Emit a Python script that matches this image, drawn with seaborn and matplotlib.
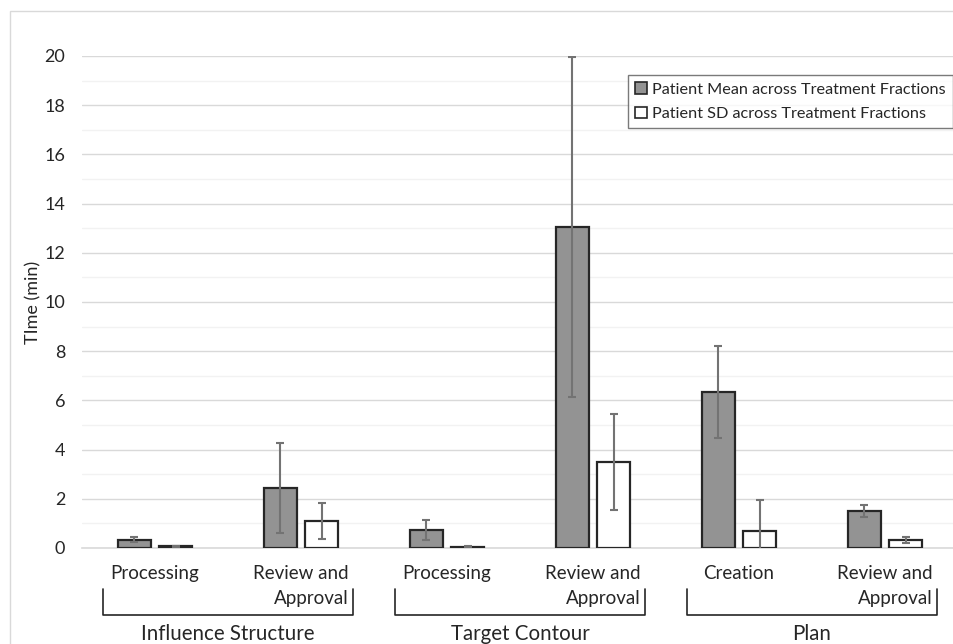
import matplotlib
matplotlib.use("Agg")
import matplotlib.pyplot as plt
from matplotlib.patches import Rectangle, Patch
from matplotlib.lines import Line2D
import seaborn as sns
import pandas as pd

# Workflow steps, grouped by stage
step_ids = ["is_proc", "is_review", "tc_proc", "tc_review", "plan_create", "plan_review"]
step_labels = ["Processing", "Review and\nApproval", "Processing", "Review and\nApproval",
               "Creation", "Review and\nApproval"]
groups = ["Influence Structure", "Target Contour", "Plan"]
group_spans = [(0, 1), (2, 3), (4, 5)]

series_names = ["Patient Mean across Treatment Fractions", "Patient SD across Treatment Fractions"]

# Times in minutes
mean_vals = [0.33, 2.45, 0.73, 13.05, 6.34, 1.50]
mean_err = [0.10, 1.82, 0.41, 6.90, 1.86, 0.24]
sd_vals = [0.07, 1.10, 0.05, 3.51, 0.69, 0.33]
sd_err = [0.03, 0.73, 0.02, 1.95, 1.26, 0.12]

yticks = list(range(0, 21, 2))

df = pd.DataFrame({
    "step": step_ids * 2,
    "series": [series_names[0]] * 6 + [series_names[1]] * 6,
    "time": mean_vals + sd_vals,
})

sns.set_style("white")
plt.rcParams["font.family"] = ["Lato", "DejaVu Sans"]

fig = plt.figure(figsize=(9.54, 6.44), dpi=100)
ax_left, ax_right = 82 / 954, 958 / 954
ax_bottom, ax_top = 1 - 548 / 644, 1 - 56 / 644
ax = fig.add_axes([ax_left, ax_bottom, ax_right - ax_left, ax_top - ax_bottom])

palette = {series_names[0]: "#939393", series_names[1]: "#ffffff"}
sns.barplot(data=df, x="step", y="time", hue="series", order=step_ids,
            hue_order=series_names, palette=palette, edgecolor="#262626",
            linewidth=1.6, width=0.575, gap=0.214, errorbar=None,
            legend=False, ax=ax, zorder=3)

# Error bars at the centre of each drawn bar
for container, vals, errs in zip(ax.containers, [mean_vals, sd_vals], [mean_err, sd_err]):
    xs = [p.get_x() + p.get_width() / 2 for p in container]
    ax.errorbar(xs, vals, yerr=errs, fmt="none", ecolor="#737373", elinewidth=1.5,
                capsize=2.8, capthick=1.5, zorder=4)

ax.set_xlim(-0.5, 5.5)
ax.set_ylim(0, 20)
ax.set_yticks(yticks)
ax.set_yticklabels([str(t) for t in yticks], fontsize=13, color="#262626")
ax.set_yticks(range(1, 20, 2), minor=True)
ax.tick_params(axis="y", which="both", length=0, pad=12)
ax.set_xticks([])
ax.set_xlabel("")
ax.set_ylabel("TIme (min)", fontsize=13, color="#262626", labelpad=2)

ax.grid(axis="y", which="major", color="#d9d9d9", lw=1.0, zorder=0)
ax.grid(axis="y", which="minor", color="#f2f2f2", lw=1.0, zorder=0)
ax.set_axisbelow(True)
for side in ["top", "right", "left"]:
    ax.spines[side].set_visible(False)
ax.spines["bottom"].set_color("#d9d9d9")
ax.spines["bottom"].set_linewidth(1.2)

# Category labels, brackets and group names below the axis
xtr = ax.get_xaxis_transform()
def ay(px):
    return (548 - px) / 492

for i, lab in enumerate(step_labels):
    ax.text(i, ay(565), lab, transform=xtr, ha="center", va="top", multialignment="right",
            fontsize=13.5, color="#262626", linespacing=1.55, clip_on=False)

for (a, b), g in zip(group_spans, groups):
    x0, x1 = a - 0.355, b + 0.355
    ax.add_line(Line2D([x0, x0, x1, x1], [ay(589), ay(615), ay(615), ay(589)],
                       transform=xtr, color="#262626", lw=1.2, clip_on=False))
    ax.text((a + b) / 2, ay(634), g, transform=xtr, ha="center", va="center",
            fontsize=14.8, color="#262626", clip_on=False)

# Legend
handles = [Patch(facecolor=palette[s], edgecolor="#262626", lw=1.2) for s in series_names]
leg = fig.legend(handles, series_names, loc="upper left",
                 bbox_to_anchor=(628 / 954, 1 - 75 / 644), fontsize=11.7,
                 frameon=True, fancybox=False, handlelength=0.7, handleheight=0.7,
                 handletextpad=0.3, labelspacing=0.62, borderpad=0.45, borderaxespad=0)
leg.get_frame().set_edgecolor("#595959")
leg.get_frame().set_linewidth(1.0)
for t in leg.get_texts():
    t.set_color("#262626")

# Light frame around the chart area
fig.patches.append(Rectangle((10 / 954, -0.1), 1.2, 1 - 11 / 644 + 0.1,
                             transform=fig.transFigure, fill=False,
                             edgecolor="#d9d9d9", lw=1.0))

fig.savefig("out.png", dpi=100)
